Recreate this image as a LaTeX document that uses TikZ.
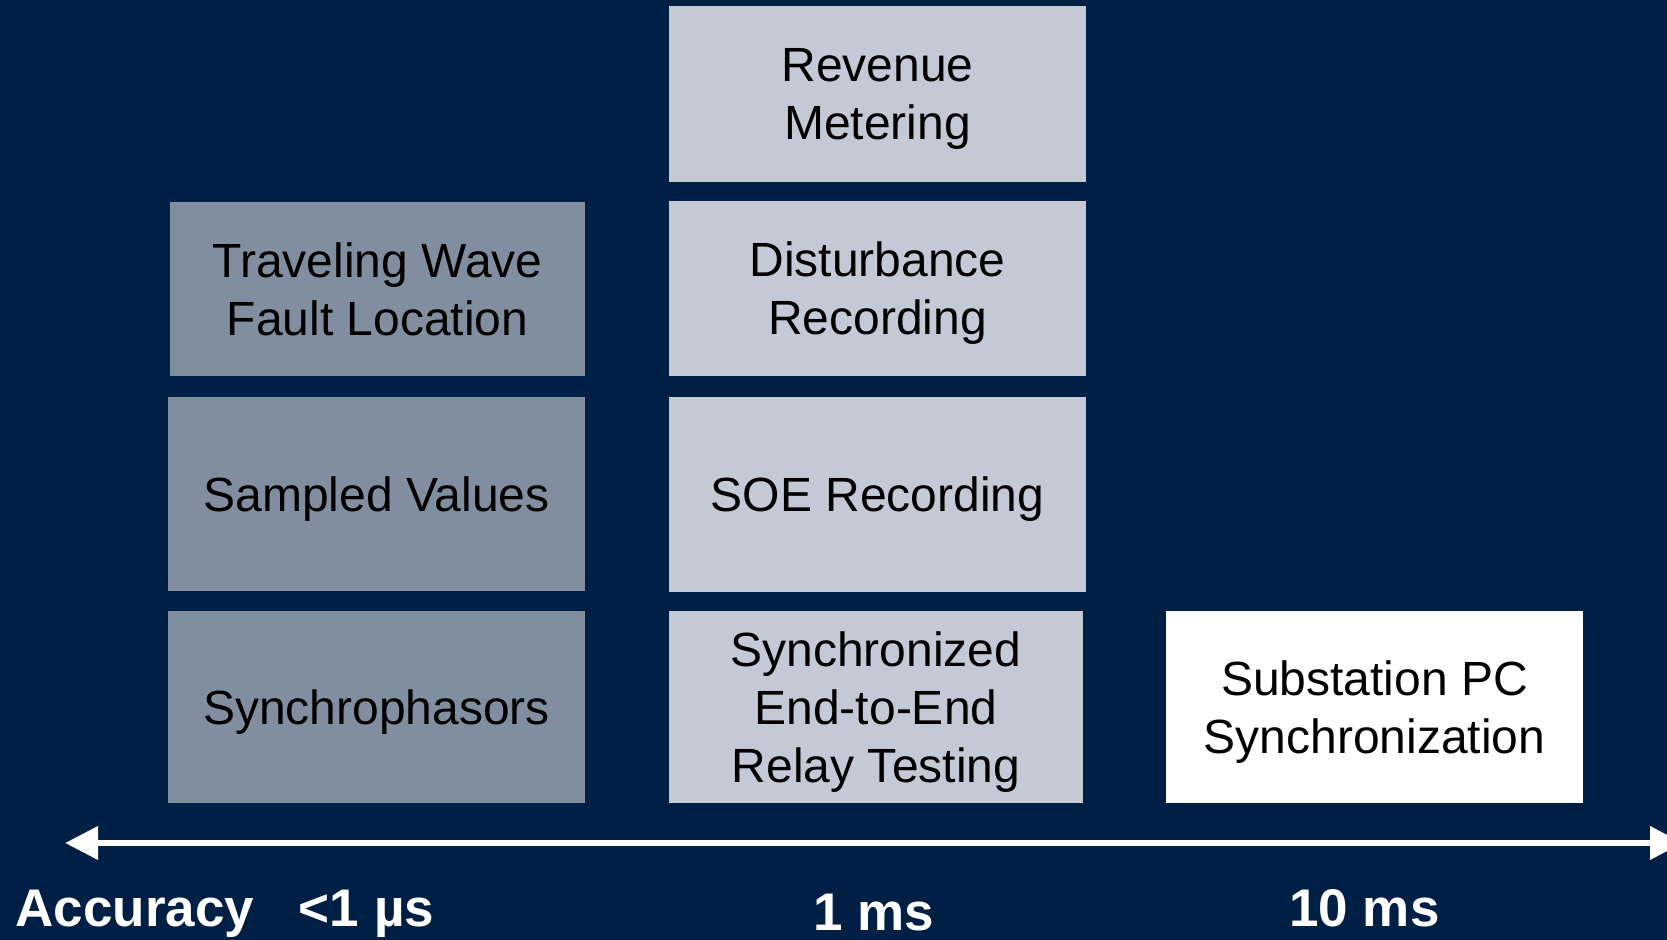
\documentclass[tikz,border=0pt]{standalone}
\usepackage{fontspec}
\setmainfont{Liberation Sans}
\usetikzlibrary{arrows.meta}
\definecolor{bgc}{RGB}{0,31,68}
\definecolor{leftc}{RGB}{128,142,160}
\definecolor{midc}{RGB}{195,201,213}
\tikzset{
  box/.style={draw=none, inner sep=0pt, outer sep=0pt, align=center,
    text=black, text depth=0pt, font=\fontsize{24}{29}\selectfont},
  lbox/.style={box, fill=leftc},
  mbox/.style={box, fill=midc},
  wbox/.style={box, fill=white},
  axislabel/.style={inner sep=0pt, outer sep=0pt, anchor=base, text=white,
    font=\fontsize{26.5}{31}\selectfont\bfseries},
  axisline/.style={draw=white, line width=3.4pt,
    {Triangle[length=16.5pt, width=16pt]}-{Triangle[length=16.5pt, width=16pt]}}
}
\begin{document}
\begin{tikzpicture}[x=0.5pt, y=-0.5pt]
\useasboundingbox (0,0) rectangle (1667,940);
\clip (0,0) rectangle (1667,940);
\fill[bgc] (0,0) rectangle (1667,940);

% left column
\node[lbox, minimum width=207.5pt, minimum height=87pt] (tw) at (377.5,289) {Traveling Wave\\Fault Location};
\node[lbox, minimum width=208.5pt, minimum height=97pt] (sv) at (376.5,494) {Sampled Values};
\node[lbox, minimum width=208.5pt, minimum height=96pt] (sp) at (376.5,707) {Synchrophasors};

% middle column
\node[mbox, minimum width=208.5pt, minimum height=88pt] (rm) at (877.5,94) {Revenue\\Metering};
\node[mbox, minimum width=208.5pt, minimum height=87.5pt] (dr) at (877.5,288.5) {Disturbance\\Recording};
\node[mbox, minimum width=208.5pt, minimum height=97.5pt] (soe) at (877.5,494.5) {SOE Recording};
\node[mbox, minimum width=207pt, minimum height=96pt] (e2e) at (876,707) {Synchronized\\End-to-End\\Relay Testing};

% right column
\node[wbox, minimum width=208.5pt, minimum height=96pt] (pc) at (1374.5,707) {Substation PC\\Synchronization};

% axis
\coordinate (aL) at (65,843);
\coordinate (aR) at (1683,843);
\draw[axisline] (aL) -- (aR);

% labels
\node[axislabel] (acc) at (135,927) {Accuracy};
\node[axislabel] (us) at (366.5,927) {<1 µs};
\node[axislabel] (ms1) at (873.5,930) {1 ms};
\node[axislabel] (ms10) at (1364.5,927) {10 ms};
\end{tikzpicture}
\end{document}
